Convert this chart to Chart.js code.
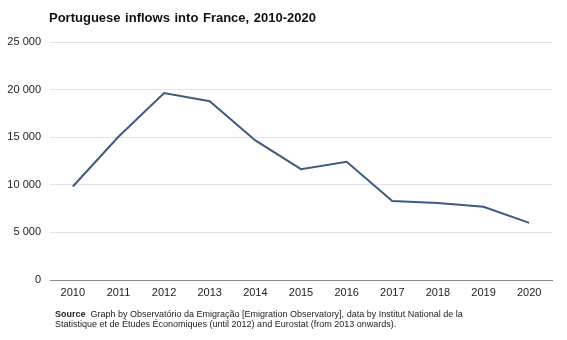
<!DOCTYPE html>
<html>
<head>
<meta charset="utf-8">
<script src="https://cdn.jsdelivr.net/npm/chart.js@4"></script>
<style>
  html, body { margin: 0; padding: 0; background: #fff; }
  #wrap { position: relative; width: 567px; height: 340px; }
  #title {
    position: absolute; left: 49px; top: 10px;
    font: bold 13px "Liberation Sans", Arial, sans-serif; color: #111; word-spacing: 1px;
  }
  #source {
    position: absolute; left: 55px; top: 309px;
    font: 9px "Liberation Sans", Arial, sans-serif; color: #222; line-height: 10px;
  }
  canvas { position: absolute; left: 0; top: 0; }
</style>
</head>
<body>
<div id="wrap">
  <canvas id="chart" width="567" height="340"></canvas>
  <div id="title">Portuguese inflows into France, 2010-2020</div>
  <div id="source"><b>Source</b>&nbsp; Graph by Observatório da Emigração [Emigration Observatory], data by Institut National de la<br>Statistique et de Études Économiques (until 2012) and Eurostat (from 2013 onwards).</div>
</div>
<script>
  const years = ["2010", "2011", "2012", "2013", "2014", "2015", "2016", "2017", "2018", "2019", "2020"];
  const inflows = [9820, 15050, 19640, 18770, 14660, 11640, 12420, 8300, 8100, 7700, 6000];
  const yMax = 25000;
  const yStep = 5000;

  const fmtThousands = (v) => String(v).replace(/\B(?=(\d{3})+(?!\d))/g, " ");
  const font = { family: '"Liberation Sans", Arial, sans-serif', size: 11 };

  new Chart(document.getElementById("chart"), {
    type: "line",
    data: {
      labels: years,
      datasets: [
        {
          data: inflows,
          borderColor: "#3e5b82",
          borderWidth: 2,
          pointRadius: 0,
          fill: false,
          tension: 0,
        },
      ],
    },
    options: {
      responsive: false,
      animation: false,
      layout: { padding: { top: 42, right: 15, bottom: 35, left: 0 } },
      plugins: { legend: { display: false }, tooltip: { enabled: false } },
      scales: {
        x: {
          offset: true,
          grid: { display: false, drawTicks: false },
          border: { display: true, color: "#8c8c8c", width: 1 },
          ticks: { color: "#222", font, padding: 6, maxRotation: 0 },
          afterFit: (s) => { s.height = 25; },
        },
        y: {
          min: 0,
          max: yMax,
          grid: { color: "#e2e3ea", drawTicks: false },
          border: { display: false },
          ticks: { stepSize: yStep, color: "#222", font, padding: 9, callback: (v) => fmtThousands(v) },
          afterFit: (s) => { s.width = 50; },
        },
      },
    },
  });
</script>
</body>
</html>
